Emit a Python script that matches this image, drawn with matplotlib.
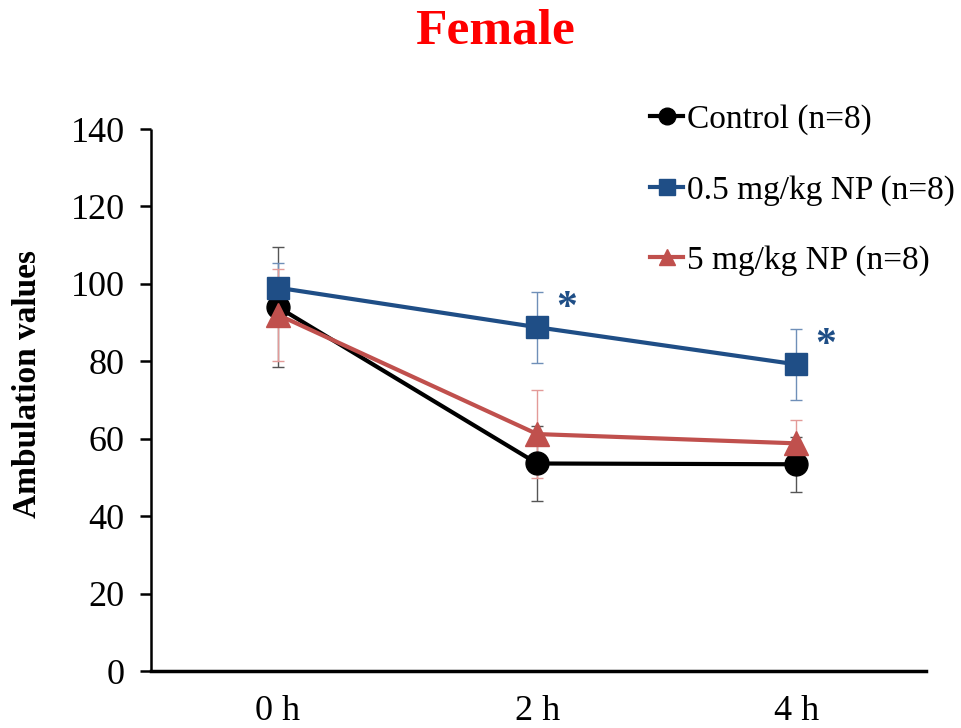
import matplotlib
matplotlib.use("Agg")
import matplotlib.pyplot as plt
from matplotlib.lines import Line2D

# Time points and group means / errors
timepoints = ["0 h", "2 h", "4 h"]
control_mean = [94.0, 53.6, 53.4]
control_err = [15.6, 9.6, 7.1]
np_low_mean = [99.0, 88.8, 79.2]
np_low_err = [6.5, 9.2, 9.2]
np_high_mean = [92.0, 61.2, 58.8]
np_high_err = [11.8, 11.4, 6.0]
significant_low = [False, True, True]

series_labels = ["Control (n=8)", "0.5 mg/kg NP (n=8)", "5 mg/kg NP (n=8)"]
yticks = [0, 20, 40, 60, 80, 100, 120, 140]

BLACK = "#000000"
BLUE = "#1F4E86"
RED = "#C0504D"
SERIF = ["Liberation Serif", "DejaVu Serif"]

plt.rcParams["font.family"] = SERIF

fig = plt.figure(figsize=(9.62, 7.28), dpi=100)
ax = fig.add_axes([151 / 962, 1 - 671 / 728, (926 - 151) / 962, (671 - 129) / 728])

x = list(range(len(timepoints)))

groups = [
    (control_mean, control_err, BLACK, "#555555", "o", 16.5, series_labels[0]),
    (np_low_mean, np_low_err, BLUE, "#6F8FB8", "s", 15.5, series_labels[1]),
    (np_high_mean, np_high_err, RED, "#E39A98", "^", 17.5, series_labels[2]),
]

for i, (mean, err, col, ecol, mk, ms, lab) in enumerate(groups):
    ax.errorbar(x, mean, yerr=err, fmt="none", ecolor=ecol, elinewidth=1.0,
                capsize=4, capthick=1.0, zorder=2 + i * 0.1)
    ax.plot(x, mean, color=col, lw=3.0, marker=mk, markersize=ms,
            markeredgecolor=col, markerfacecolor=col, zorder=4 + i, label=lab)

for xi, m, sig in zip(x, np_low_mean, significant_low):
    if sig:
        ax.annotate("*", xy=(xi, m), xytext=(21, 13), textcoords="offset points",
                    ha="center", va="center", fontsize=30, fontweight="bold",
                    color=BLUE, family=SERIF)

ax.set_xlim(-0.49, 2.5)
ax.set_ylim(0, 140)
ax.set_yticks(yticks)
ax.set_xticks(x)
ax.set_xticklabels(timepoints)
ax.tick_params(axis="y", direction="out", length=8, width=1.8, labelsize=26, pad=11)
ax.tick_params(axis="x", length=0, labelsize=26, pad=17)
for sp in ["top", "right"]:
    ax.spines[sp].set_visible(False)
ax.spines["left"].set_linewidth(1.8)
ax.spines["bottom"].set_linewidth(2.5)
ax.spines["left"].set_capstyle("butt")

ax.set_ylabel("Ambulation values", fontsize=24, fontweight="bold")
ax.yaxis.set_label_coords(-0.139, 0.529)

fig.text(495 / 962, 1 - 32 / 728, "Female", ha="center", va="center",
         fontsize=37, fontweight="bold", color="#FF0000", family=SERIF)

handles = [Line2D([0], [0], color=c, lw=3, marker=m, markersize=12,
                  markerfacecolor=c, markeredgecolor=c)
           for _, _, c, _, m, _, _ in groups]
fig.legend(handles, series_labels, loc="upper left",
           bbox_to_anchor=(650 / 962, 1 - 104 / 728), frameon=False,
           fontsize=24, handlelength=1.0, handletextpad=0.1,
           labelspacing=1.2, borderpad=0, borderaxespad=0)

fig.savefig("out.png", dpi=100)
